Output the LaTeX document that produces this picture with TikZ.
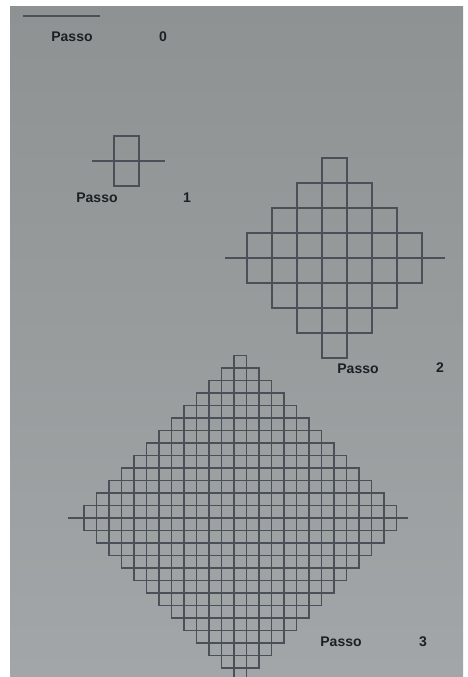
\documentclass[tikz,border=0pt]{standalone}
\usepackage{fontspec}
\setmainfont{Liberation Sans}
\definecolor{papertop}{HTML}{8F9292}
\definecolor{paperbot}{HTML}{A2A6A8}
\definecolor{pencil}{HTML}{4A5057}
\definecolor{ink}{HTML}{1C2024}
\tikzset{
  lbl/.style={text=ink, font=\fontsize{14}{14}\selectfont\bfseries, inner sep=0pt},
  cell/.style={draw=pencil, line width=1.7pt},
  axis/.style={draw=pencil, line width=1.7pt}
}
\begin{document}
\begin{tikzpicture}[x=1pt, y=-1pt]
	\useasboundingbox (0,0) rectangle (467,677);
	\clip (0,0) rectangle (467,677);
	\fill[white] (0,0) rectangle (467,677);
	\shade[top color=papertop, bottom color=paperbot] (10,7) rectangle (463,677);
	\draw[pencil, line width=2pt] (23,16) -- (100,16);
	\node[lbl] (passoA) at (72,37) {Passo};
	\node[lbl] (numA) at (163,37) {0};
	\draw[cell] (114,136) rectangle (139,186);
	\draw[axis] (92,161) -- (165,161);
	\node[lbl] (passoB) at (97,198) {Passo};
	\node[lbl] (numB) at (187,198) {1};
	\foreach \i in {-3,...,3}{
		\pgfmathtruncatemacro{\h}{4-abs(\i)}
		\pgfmathsetmacro{\cx}{322+25*\i}
		\foreach \j in {1,...,\h}
			\draw[cell] (\cx, 258-25*\j) rectangle ++(25,25) (\cx, 258+25*\j) rectangle ++(25,-25);
	}
	\draw[axis] (225,258) -- (445,258);
	\node[lbl] (passoC) at (358,369) {Passo};
	\node[lbl] (numC) at (440,368) {2};
	\foreach \i in {-12,...,12}{
		\pgfmathtruncatemacro{\h}{13-abs(\i)}
		\pgfmathsetmacro{\cx}{234+12.5*\i}
		\foreach \j in {1,...,\h}
			\draw[cell] (\cx, 518-12.5*\j) rectangle ++(12.5,12.5) (\cx, 518+12.5*\j) rectangle ++(12.5,-12.5);
	}
	\draw[axis] (68,518) -- (408,518);
	\node[lbl] (passoD) at (341,642) {Passo};
	\node[lbl] (numD) at (423,642) {3};
\end{tikzpicture}
\end{document}
